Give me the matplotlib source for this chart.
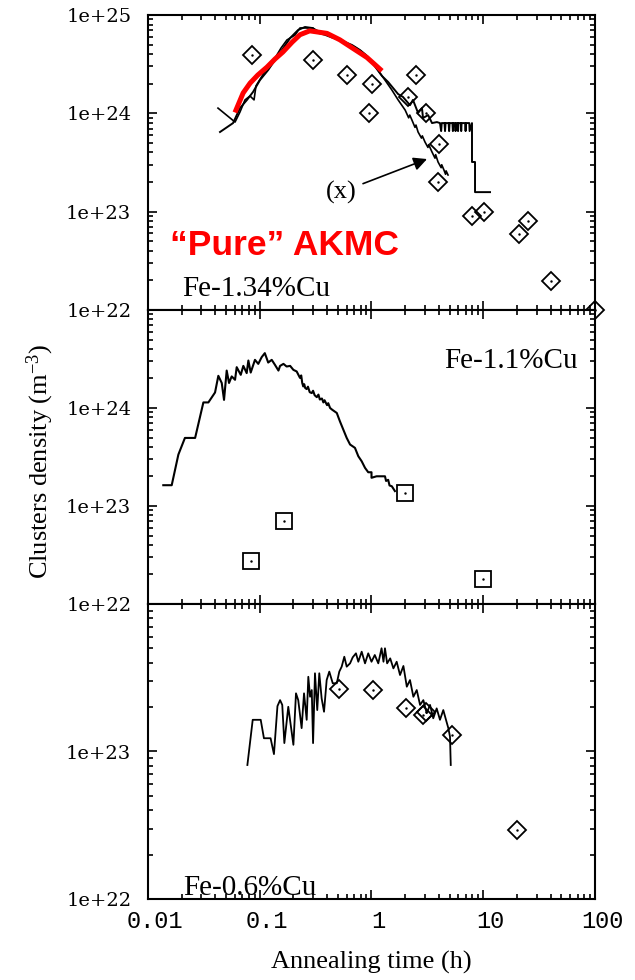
import matplotlib
matplotlib.use("Agg")
import numpy as np
import matplotlib.pyplot as plt
import matplotlib.ticker as mticker
from matplotlib import font_manager
from matplotlib.transforms import ScaledTranslation

# ---------------- data ----------------
# Fe-1.34%Cu : experimental cluster densities (diamonds)
exp134_t = [0.085, 0.30, 0.60, 1.02, 0.95, 2.5, 2.1, 3.1, 4.0, 3.9, 7.9, 10.2, 21, 25, 40, 100]
exp134_n = [3.9e24, 3.45e24, 2.45e24, 2.0e24, 1.0e24, 2.45e24, 1.47e24, 1.0e24,
            4.9e23, 2.0e23, 9.0e22, 1.0e23, 5.9e22, 8.0e22, 1.95e22, 1.0e22]

# Fe-1.34%Cu : simulation, run labelled (x)
simA_t = [0.0423, 0.0601, 0.0665, 0.0738, 0.0818, 0.0889, 0.0925, 0.105, 0.116, 0.137,
          0.155, 0.175, 0.207, 0.229, 0.300, 0.332, 0.384, 0.452, 0.522, 0.617, 0.711,
          0.822, 0.931, 1.01, 1.14, 1.32, 1.52, 1.73, 2.00, 2.15, 2.2, 2.3, 2.45, 2.5,
          2.61, 2.8, 2.85, 3.01, 3.2, 3.25, 3.48, 3.7, 3.75, 3.94, 4.2, 4.25, 4.45,
          4.6, 4.65, 4.84]
simA_n = [1.13e24, 8.15e23, 1.03e24, 1.37e24, 1.50e24, 1.37e24, 1.90e24, 2.40e24, 2.89e24,
          3.65e24, 4.61e24, 5.57e24, 6.26e24, 7.38e24, 7.38e24, 6.56e24, 6.26e24, 5.83e24,
          5.57e24, 5.07e24, 4.72e24, 4.21e24, 3.65e24, 3.33e24, 2.76e24, 2.18e24, 1.73e24,
          1.37e24, 1.08e24, 9.0e23, 9.6e23, 8.55e23, 7.2e23, 7.6e23, 6.46e23, 5.6e23,
          5.9e23, 5.11e23, 4.5e23, 4.8e23, 4.04e23, 3.5e23, 3.8e23, 3.2e23, 2.8e23,
          3.0e23, 2.65e23, 2.4e23, 2.6e23, 2.36e23]

# Fe-1.34%Cu : simulation with the long plateau
simB_t = [0.0441, 0.0577, 0.0665, 0.0769, 0.0871, 0.1005, 0.119, 0.137, 0.158, 0.187,
          0.220, 0.254, 0.294, 0.346, 0.426, 0.501, 0.579, 0.670, 0.789, 0.893, 0.971,
          1.10, 1.24, 1.41, 1.56, 1.73, 1.91, 2.21, 2.35, 2.61, 2.83, 2.89, 3.21, 3.48,
          3.85, 4.10, 4.2, 4.25, 4.5, 4.55, 4.6, 4.9, 4.95, 5.0, 5.3, 5.35, 5.4, 5.6,
          5.65, 5.7, 5.9, 5.95, 6.0, 6.3, 6.35, 6.4, 6.9, 6.95, 7.0, 7.5, 7.55, 7.93,
          7.93, 8.44, 8.44, 11.5]
simB_n = [6.46e23, 7.96e23, 1.13e24, 1.37e24, 1.65e24, 2.18e24, 2.76e24, 3.49e24, 4.40e24,
          5.83e24, 7.03e24, 7.55e24, 7.38e24, 6.7e24, 6.11e24, 5.83e24, 5.31e24, 4.95e24,
          4.40e24, 3.92e24, 3.49e24, 2.89e24, 2.40e24, 2.08e24, 1.81e24, 1.57e24, 1.47e24,
          1.21e24, 1.37e24, 1.01e24, 1.13e24, 8.96e23, 9.6e23, 7.96e23, 8.15e23, 7.96e23,
          6.6e23, 7.96e23, 7.96e23, 6.6e23, 7.96e23, 7.96e23, 6.6e23, 7.96e23, 7.96e23,
          6.6e23, 7.96e23, 7.96e23, 6.6e23, 7.96e23, 7.96e23, 6.6e23, 7.96e23, 7.96e23,
          6.6e23, 7.96e23, 7.96e23, 6.6e23, 7.96e23, 7.96e23, 6.6e23, 7.96e23,
          3.2e23, 3.2e23, 1.58e23, 1.58e23]

# Fe-1.34%Cu : "pure" AKMC result
akmc_t = [0.060, 0.071, 0.082, 0.096, 0.116, 0.137, 0.161, 0.195, 0.229, 0.28, 0.40,
          0.52, 0.64, 0.91, 1.24]
akmc_n = [1.02e24, 1.61e24, 2.03e24, 2.45e24, 2.95e24, 3.57e24, 4.2e24, 5.3e24, 6.3e24,
          6.9e24, 6.5e24, 5.6e24, 4.8e24, 3.7e24, 2.7e24]

# Fe-1.1%Cu
exp11_t = [0.083, 0.165, 2.0, 10.0]
exp11_n = [2.75e22, 7.1e22, 1.37e23, 1.8e22]
sim11_t = [0.0137, 0.0163, 0.0187, 0.0214, 0.0264, 0.0313, 0.0347, 0.0398, 0.0426, 0.0457,
           0.0479, 0.0506, 0.0531, 0.0561, 0.0601, 0.0622, 0.0676, 0.0713, 0.0764, 0.0791,
           0.0830, 0.0906, 0.0970, 0.104, 0.111, 0.119, 0.128, 0.137, 0.147, 0.152, 0.163,
           0.174, 0.187, 0.200, 0.214, 0.229, 0.235, 0.240, 0.245, 0.250, 0.255, 0.263,
           0.270, 0.280, 0.292, 0.300, 0.310, 0.324, 0.335, 0.345, 0.360, 0.371, 0.380,
           0.400, 0.410, 0.426, 0.445, 0.489, 0.522, 0.560, 0.600, 0.643, 0.711, 0.762,
           0.817, 0.875, 0.935, 1.00, 1.00, 1.11, 1.32, 1.35, 1.41, 1.45, 1.52, 1.62]
sim11_n = [1.63e23, 1.63e23, 3.35e23, 4.95e23, 4.95e23, 1.14e24, 1.14e24, 1.44e24, 2.13e24,
           1.80e24, 1.21e24, 2.41e24, 1.80e24, 2.10e24, 1.94e24, 2.61e24, 2.18e24, 2.69e24,
           2.27e24, 3.05e24, 2.30e24, 3.10e24, 2.82e24, 3.30e24, 3.63e24, 2.91e24, 3.10e24,
           2.75e24, 2.41e24, 2.69e24, 2.82e24, 2.65e24, 2.69e24, 2.45e24, 2.36e24, 2.03e24,
           2.15e24, 1.80e24, 1.66e24, 1.75e24, 1.60e24, 1.56e24, 1.65e24, 1.45e24, 1.42e24,
           1.50e24, 1.35e24, 1.29e24, 1.37e24, 1.22e24, 1.25e24, 1.14e24, 1.20e24, 1.07e24,
           1.12e24, 1.00e24, 9.6e23, 8.9e23, 7.3e23, 6.0e23, 4.95e23, 4.24e23, 3.92e23,
           3.22e23, 2.86e23, 2.45e23, 2.21e23, 2.21e23, 1.94e23, 2.01e23, 2.01e23, 1.80e23,
           1.85e23, 1.62e23, 1.59e23, 1.42e23]

# Fe-0.6%Cu
exp06_t = [0.51, 1.03, 2.04, 2.9, 3.1, 5.25, 20]
exp06_n = [2.65e23, 2.6e23, 1.97e23, 1.77e23, 1.85e23, 1.3e23, 2.93e22]
sim06_t = [0.0775, 0.0865, 0.102, 0.109, 0.125, 0.134, 0.144, 0.152, 0.159, 0.166, 0.180,
           0.200, 0.211, 0.221, 0.237, 0.249, 0.263, 0.272, 0.282, 0.292, 0.300, 0.312,
           0.327, 0.341, 0.358, 0.376, 0.397, 0.419, 0.450, 0.489, 0.515, 0.541, 0.571,
           0.600, 0.643, 0.679, 0.726, 0.762, 0.817, 0.875, 0.935, 1.00, 1.07, 1.15, 1.23,
           1.28, 1.32, 1.38, 1.47, 1.57, 1.68, 1.80, 1.93, 2.07, 2.21, 2.37, 2.54, 2.72,
           2.91, 3.12, 3.34, 3.57, 3.83, 4.10, 4.39, 4.64, 4.87, 5.04, 5.12]
sim06_n = [8.1e22, 1.64e23, 1.64e23, 1.23e23, 1.23e23, 9.6e22, 2.03e23, 2.23e23, 2.07e23,
           1.14e23, 2.01e23, 1.11e23, 2.48e23, 2.23e23, 1.44e23, 2.48e23, 1.64e23, 3.21e23,
           2.35e23, 2.61e23, 1.14e23, 3.39e23, 1.91e23, 3.39e23, 2.29e23, 1.86e23, 3.05e23,
           3.48e23, 2.90e23, 2.90e23, 3.48e23, 3.76e23, 4.39e23, 3.76e23, 3.96e23, 4.35e23,
           4.63e23, 4.06e23, 4.75e23, 3.96e23, 4.63e23, 4.06e23, 4.51e23, 3.96e23, 5.01e23,
           4.06e23, 5.01e23, 3.96e23, 4.28e23, 3.66e23, 4.06e23, 3.30e23, 3.80e23, 2.75e23,
           3.05e23, 2.35e23, 2.61e23, 2.07e23, 2.23e23, 1.82e23, 2.07e23, 1.68e23, 1.96e23,
           1.64e23, 1.91e23, 1.64e23, 1.44e23, 1.26e23, 8.1e22]

x_ticks = [0.01, 0.1, 1, 10, 100]
x_tick_labels = ["0.01", "0.1", "1", "10", "100"]

# ---------------- style ----------------
plt.rcParams["font.family"] = ["Liberation Serif", "DejaVu Serif"]
plt.rcParams["mathtext.fontset"] = "custom"
plt.rcParams["mathtext.rm"] = "Liberation Serif"
plt.rcParams["mathtext.default"] = "regular"

installed = {f.name for f in font_manager.fontManager.ttflist}
if "Liberation Sans Narrow" in installed:
    akmc_font, akmc_size = "Liberation Sans Narrow", 30
else:
    akmc_font, akmc_size = "Liberation Sans", 25.5

fig = plt.figure(figsize=(6.35, 9.8), dpi=100)
W, H = 635.0, 980.0
left, right = 148 / W, 595 / W
bounds = [(15, 310), (310, 604), (604, 899)]
ylims = [(1e22, 1e25), (1e22, 1e25), (1e22, 1e24)]
ylabels = [[1e22, 1e23, 1e24, 1e25], [1e22, 1e23, 1e24], [1e22, 1e23]]

axes = []
for (top, bot), yl, ylab in zip(bounds, ylims, ylabels):
    ax = fig.add_axes([left, 1 - bot / H, right - left, (bot - top) / H])
    ax.set_xscale("log")
    ax.set_yscale("log")
    ax.set_xlim(0.01, 100)
    ax.set_ylim(*yl)
    for s in ax.spines.values():
        s.set_linewidth(1.5)
    ax.xaxis.set_major_locator(mticker.FixedLocator(x_ticks))
    ax.xaxis.set_minor_locator(mticker.LogLocator(base=10, subs=np.arange(2, 10)))
    ax.yaxis.set_major_locator(mticker.FixedLocator(ylab))
    ax.yaxis.set_minor_locator(mticker.LogLocator(base=10, subs=np.arange(2, 10)))
    ax.yaxis.set_minor_formatter(mticker.NullFormatter())
    ax.xaxis.set_minor_formatter(mticker.NullFormatter())
    ax.yaxis.set_major_formatter(
        mticker.FuncFormatter(lambda v, p: "1e+%d" % int(round(np.log10(v)))))
    ax.tick_params(which="both", direction="in", top=True, right=True, width=1.2)
    ax.tick_params(which="major", length=6.5)
    ax.tick_params(which="minor", length=3.5)
    ax.tick_params(axis="y", which="major", pad=12, labelsize=14,
                   labelfontfamily="DejaVu Serif")
    axes.append(ax)

ax1, ax2, ax3 = axes
for ax in (ax1, ax2):
    ax.xaxis.set_major_formatter(mticker.NullFormatter())
ax3.xaxis.set_major_formatter(mticker.FixedFormatter(x_tick_labels))
ax3.tick_params(axis="x", which="major", pad=8, labelsize=17,
                labelfontfamily="Liberation Mono")
shift = ScaledTranslation(7 / 100, 0, fig.dpi_scale_trans)
for lab in ax3.get_xticklabels():
    lab.set_transform(lab.get_transform() + shift)

mk = dict(linestyle="none", markerfacecolor="none", markeredgecolor="black",
          markeredgewidth=1.3, clip_on=False, zorder=4)
dot = dict(linestyle="none", marker=".", markersize=1.5, color="black",
           clip_on=False, zorder=5)

# top panel: Fe-1.34%Cu
ax1.plot(simA_t, simA_n, color="black", lw=1.2, zorder=2)
ax1.plot(simB_t, simB_n, color="black", lw=1.4, zorder=2)
ax1.plot(akmc_t, akmc_n, color="#ff0000", lw=3.6, solid_capstyle="butt", zorder=3)
ax1.plot(exp134_t, exp134_n, marker="D", markersize=9, **mk)
ax1.plot(exp134_t, exp134_n, **dot)
ax1.annotate("(x)", xy=(3.14, 3.43e23), xytext=(0.533, 1.58e23),
             ha="center", va="center", fontsize=19,
             arrowprops=dict(arrowstyle="-|>", color="black", lw=1.2,
                             mutation_scale=20, shrinkA=3, shrinkB=0))
ax1.text(0.05, 0.186, "\u201cPure\u201d AKMC", transform=ax1.transAxes,
         family=[akmc_font, "DejaVu Sans"], fontweight="bold", fontsize=akmc_size,
         color="#ff0000", ha="left", va="baseline")
ax1.text(0.076, 0.047, "Fe-1.34%Cu", transform=ax1.transAxes, fontsize=21,
         ha="left", va="baseline")

# middle panel: Fe-1.1%Cu
ax2.plot(sim11_t, sim11_n, color="black", lw=1.5, zorder=2)
ax2.plot(exp11_t, exp11_n, marker="s", markersize=12, **mk)
ax2.plot(exp11_t, exp11_n, **dot)
ax2.text(0.962, 0.803, "Fe-1.1%Cu", transform=ax2.transAxes, fontsize=21,
         ha="right", va="baseline")

# bottom panel: Fe-0.6%Cu
ax3.plot(sim06_t, sim06_n, color="black", lw=1.3, zorder=2)
ax3.plot(exp06_t, exp06_n, marker="D", markersize=9, **mk)
ax3.plot(exp06_t, exp06_n, **dot)
ax3.text(0.078, 0.014, "Fe-0.6%Cu", transform=ax3.transAxes, fontsize=21,
         ha="left", va="baseline")

fig.text(40 / W, 1 - 461 / H, "Clusters density (m$^{-3}$)", rotation=90,
         ha="center", va="center", fontsize=19)
fig.text(371 / W, 1 - 962 / H, "Annealing time (h)", ha="center", va="center",
         fontsize=19)

fig.savefig("out.png", dpi=100)
